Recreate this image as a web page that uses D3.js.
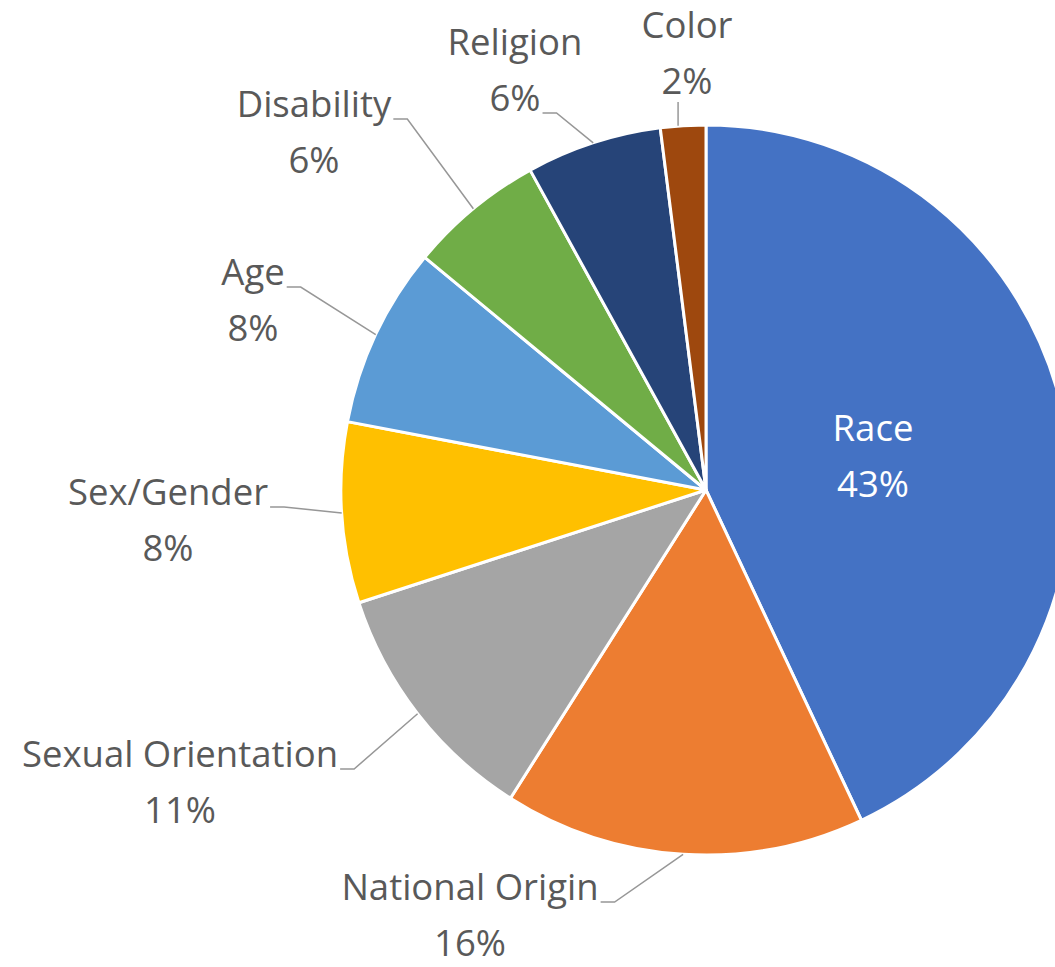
<!DOCTYPE html>
<html>
<head>
<meta charset="utf-8">
<script src="https://cdn.jsdelivr.net/npm/d3@7"></script>
<style>
  html, body { margin: 0; padding: 0; background: #fff; }
  text { font-family: "Open Sans", "Noto Sans", sans-serif; }
</style>
</head>
<body>
<script>
// data
var categories = ["Race", "National Origin", "Sexual Orientation", "Sex/Gender", "Age", "Disability", "Religion", "Color"];
var values = [43, 16, 11, 8, 8, 6, 6, 2];
var colors = ["#4472C4", "#ED7D31", "#A5A5A5", "#FFC000", "#5B9BD5", "#70AD47", "#264478", "#9E480E"];

// label placement (text centre x, first baseline y, where the leader attaches)
var labelLayout = [
  {x: 873, y: 441, attach: "none", inside: true},
  {x: 470, y: 900, attach: "line1"},
  {x: 180, y: 767, attach: "line1"},
  {x: 168, y: 505, attach: "line1"},
  {x: 253, y: 285, attach: "line1"},
  {x: 314, y: 117, attach: "line1"},
  {x: 515, y: 55, attach: "line2"},
  {x: 687, y: 38, attach: "bottom"}
];

var width = 1055,
    height = 967,
    cx = 706,
    cy = 490,
    radius = 365,
    lineGap = 56,
    fontSize = 36.5;

var svg = d3.select("body").append("svg")
    .attr("width", width)
    .attr("height", height);

var pie = d3.pie().sort(null).value(function(d) { return d; });
var arcs = pie(values);

var arc = d3.arc().innerRadius(0).outerRadius(radius);

var g = svg.append("g").attr("transform", "translate(" + cx + "," + cy + ")");

g.selectAll("path.slice")
    .data(arcs)
    .enter()
    .append("path")
    .attr("class", "slice")
    .attr("d", arc)
    .attr("fill", function(d, i) { return colors[i]; })
    .attr("stroke", "#fff")
    .attr("stroke-width", 3)
    .attr("stroke-linejoin", "round");

var total = d3.sum(values);
function pct(v) { return Math.round(v / total * 100) + "%"; }

// labels
var labels = svg.selectAll("g.label")
    .data(arcs)
    .enter()
    .append("g")
    .attr("class", "label");

labels.each(function(d, i) {
  var L = labelLayout[i];
  var sel = d3.select(this);
  var fill = L.inside ? "#fff" : "#595959";
  var t1 = sel.append("text")
      .attr("x", L.x).attr("y", L.y)
      .attr("text-anchor", "middle")
      .attr("font-size", fontSize)
      .attr("fill", fill)
      .text(categories[i]);
  var t2 = sel.append("text")
      .attr("x", L.x).attr("y", L.y + lineGap)
      .attr("text-anchor", "middle")
      .attr("font-size", fontSize)
      .attr("fill", fill)
      .text(pct(values[i]));

  if (L.attach === "none") return;

  // point on the rim at the slice's mid angle
  var a = (d.startAngle + d.endAngle) / 2;
  var px = cx + radius * Math.sin(a),
      py = cy - radius * Math.cos(a);
  var pts;
  if (L.attach === "bottom") {
    var bx = px - 5;
    pts = [[bx, L.y + lineGap + 8], [bx, py]];
  } else {
    var tt = L.attach === "line1" ? t1 : t2;
    var w = tt.node().getComputedTextLength();
    var ex = L.x + w / 2 + 2,
        ey = L.y + (L.attach === "line1" ? 0 : lineGap) + 2;
    pts = [[ex, ey], [ex + 14, ey], [px, py]];
  }
  sel.append("path")
      .attr("d", d3.line()(pts))
      .attr("fill", "none")
      .attr("stroke", "#979797")
      .attr("stroke-width", 1.5);
});
</script>
</body>
</html>
